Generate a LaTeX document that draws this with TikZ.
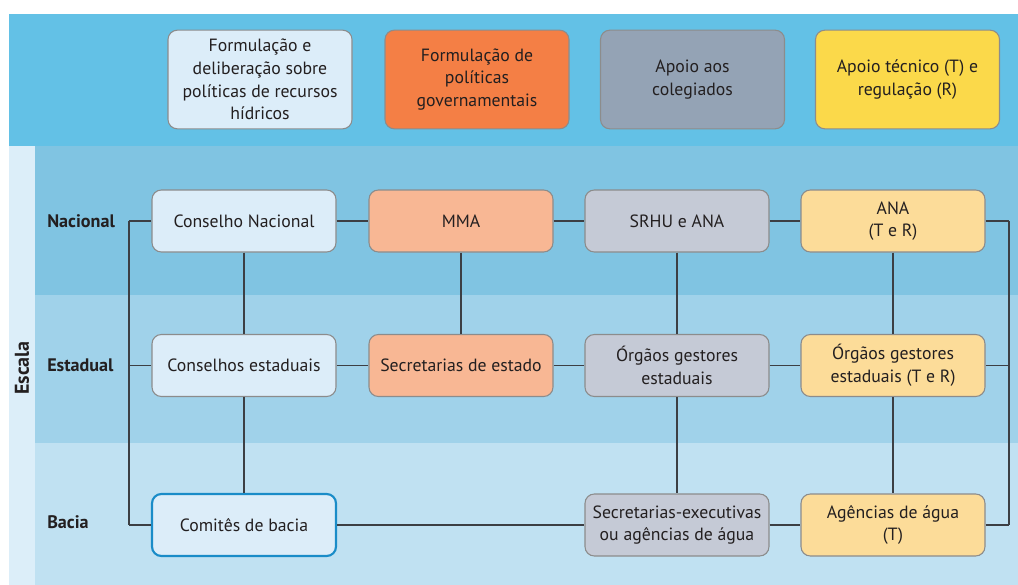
\documentclass[tikz,border=0pt]{standalone}
\usepackage{fontspec}
\setmainfont{PT Sans}
\usetikzlibrary{positioning}

\definecolor{faixatopo}{HTML}{63C1E6}
\definecolor{faixaescala}{HTML}{DCEEF9}
\definecolor{faixanac}{HTML}{80C4E2}
\definecolor{faixaest}{HTML}{A0D2EA}
\definecolor{faixabac}{HTML}{C0E1F2}
\definecolor{azulclaro}{HTML}{DCEDF9}
\definecolor{laranja}{HTML}{F47F45}
\definecolor{salmao}{HTML}{F8B794}
\definecolor{cinzaazul}{HTML}{94A3B5}
\definecolor{cinzaclaro}{HTML}{C5CAD6}
\definecolor{amarelo}{HTML}{FBD94A}
\definecolor{amareloclaro}{HTML}{FCDC99}
\definecolor{bordacinza}{HTML}{8C8C8C}
\definecolor{bordaazul}{HTML}{1A8CC8}
\definecolor{linha}{HTML}{3C3F44}
\definecolor{texto}{HTML}{231F20}

\begin{document}
\begin{tikzpicture}[%
        x = 0.75pt,
        y = -0.75pt,
        font = \fontsize{13.3}{17}\selectfont,
        caixa/.style = {draw = bordacinza, line width = 0.8pt,
            rounded corners = 7pt, align = center, text = texto,
            minimum width = 138pt, minimum height = 46.5pt, inner sep = 2pt},
        titulo/.style = {caixa, minimum height = 74pt},
        escala/.style = {font = \fontsize{13.6}{16}\selectfont\bfseries,
            text = texto, anchor = west, inner sep = 0pt},
        conector/.style = {draw = linha, line width = 0.9pt}
    ]

        % Fix the page to the size of the picture.
        \useasboundingbox (0, 0) rectangle (1018, 585);

        % Draw the coloured bands behind everything.
        \fill[faixatopo] (9, 14) rectangle (1018, 146);
        \fill[faixaescala] (9, 146) rectangle (35, 585);
        \fill[faixanac] (35, 146) rectangle (1018, 295);
        \fill[faixaest] (35, 295) rectangle (1018, 443);
        \fill[faixabac] (35, 443) rectangle (1018, 585);

        % Column headings.
        \node[titulo, fill = azulclaro] (tcons) at (260, 79.5)
            {Formulação e\\deliberação sobre\\políticas de recursos\\hídricos};
        \node[titulo, fill = laranja] (tform) at (477, 79.5)
            {Formulação de\\políticas\\governamentais};
        \node[titulo, fill = cinzaazul] (tapoio) at (692.5, 79.5)
            {Apoio aos\\colegiados};
        \node[titulo, fill = amarelo] (ttec) at (907.5, 79.5)
            {Apoio técnico (T) e\\regulação (R)};

        % Row labels.
        \node[escala] (lnac) at (47, 221) {Nacional};
        \node[escala] (lest) at (47, 365.5) {Estadual};
        \node[escala] (lbac) at (47, 522) {Bacia};
        \node[font = \fontsize{15}{17}\selectfont\bfseries, text = texto,
            rotate = 90] (lescala) at (22, 368) {Escala};

        % Nacional.
        \node[caixa, fill = azulclaro] (cn) at (244, 221) {Conselho Nacional};
        \node[caixa, fill = salmao] (mma) at (461, 221) {MMA};
        \node[caixa, fill = cinzaclaro] (srhu) at (677, 221) {SRHU e ANA};
        \node[caixa, fill = amareloclaro] (ana) at (893, 221) {ANA\\(T e R)};

        % Estadual.
        \node[caixa, fill = azulclaro] (ce) at (244, 365.5) {Conselhos estaduais};
        \node[caixa, fill = salmao] (se) at (461, 365.5) {Secretarias de estado};
        \node[caixa, fill = cinzaclaro] (oge) at (677, 365.5)
            {Órgãos gestores\\estaduais};
        \node[caixa, fill = amareloclaro] (ogtr) at (893, 365.5)
            {Órgãos gestores\\estaduais (T e R)};

        % Bacia.
        \node[caixa, fill = azulclaro, draw = bordaazul, line width = 1.6pt]
            (cb) at (244, 525) {Comitês de bacia};
        \node[caixa, fill = cinzaclaro] (sea) at (677, 525)
            {Secretarias-executivas\\ou agências de água};
        \node[caixa, fill = amareloclaro] (aga) at (893, 525)
            {Agências de água\\(T)};

        % Outer brackets on both sides.
        \coordinate (esqtopo) at (129, 221);
        \coordinate (esqmeio) at (129, 365.5);
        \coordinate (esqbase) at (129, 525);
        \coordinate (dirtopo) at (1009, 221);
        \coordinate (dirmeio) at (1009, 365.5);
        \coordinate (dirbase) at (1009, 525);

        \begin{scope}[conector]
            \draw (esqtopo) -- (esqbase);
            \draw (dirtopo) -- (dirbase);
            \draw (esqtopo) -- (cn);
            \draw (esqmeio) -- (ce);
            \draw (esqbase) -- (cb);
            \draw (ana) -- (dirtopo);
            \draw (ogtr) -- (dirmeio);
            \draw (aga) -- (dirbase);

            % Links along each row.
            \foreach \a/\b in {cn/mma, mma/srhu, srhu/ana,
                ce/se, se/oge, oge/ogtr, cb/sea, sea/aga}{%
                \draw (\a) -- (\b);
            }

            % Links down each column.
            \foreach \a/\b in {cn/ce, ce/cb, mma/se, srhu/oge, oge/sea,
                ana/ogtr, ogtr/aga}{%
                \draw (\a) -- (\b);
            }
        \end{scope}
    \end{tikzpicture}
\end{document}
